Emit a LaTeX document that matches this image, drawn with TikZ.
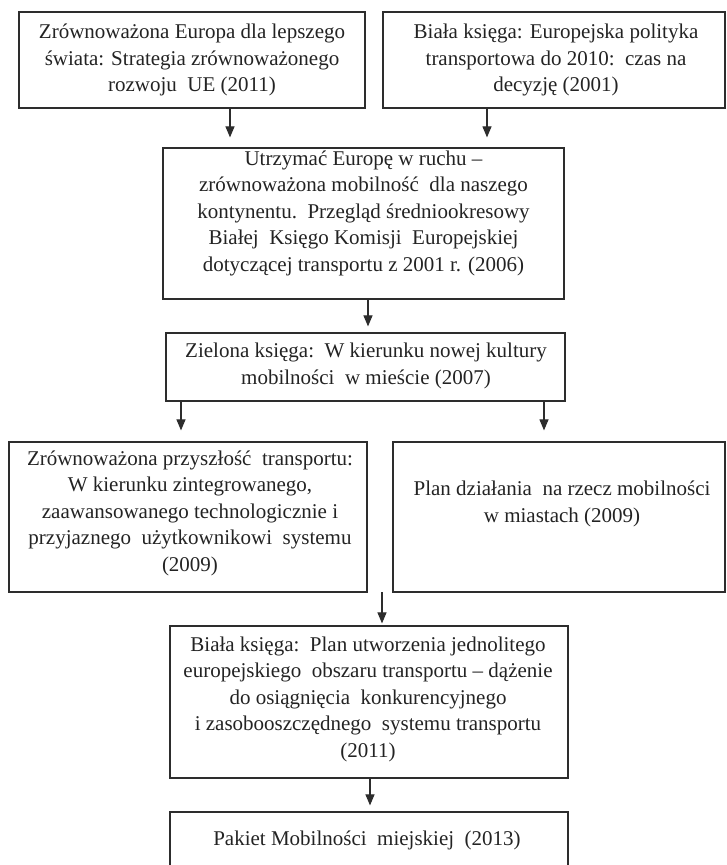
\documentclass[tikz,border=0pt]{standalone}
\usepackage{fontspec}
\setmainfont{Liberation Serif}
\usetikzlibrary{arrows.meta}
\definecolor{linec}{RGB}{45,45,45}
\definecolor{textc}{RGB}{35,35,35}
\begin{document}
\begin{tikzpicture}[x=1pt,y=-1pt,
  box/.style={draw=linec, line width=1.2pt, inner sep=0pt},
  txt/.style={align=center, inner sep=0pt, text=textc, font=\fontsize{21}{26.5}\selectfont},
  arr/.style={draw=linec, line width=1.1pt, -{Triangle[width=9pt,length=11pt]}}]
\useasboundingbox (0,0) rectangle (726,865);
\clip (0,0) rectangle (726,865);
% boxes
\node[box, minimum width=346pt, minimum height=96pt] (b1) at (192,60) {};
\node[box, minimum width=342pt, minimum height=96pt] (b2) at (554,60) {};
\node[box, minimum width=401pt, minimum height=151pt] (b3) at (363.5,223.5) {};
\node[box, minimum width=399pt, minimum height=68pt] (b4) at (365.5,367) {};
\node[box, minimum width=358pt, minimum height=150pt] (b5) at (188,517) {};
\node[box, minimum width=332pt, minimum height=150pt] (b6) at (559,517) {};
\node[box, minimum width=398pt, minimum height=152pt] (b7) at (369,702) {};
\node[box, minimum width=398pt, minimum height=60pt] (b8) at (369,842) {};
% texts
\node[txt] (t1) at (192,60) {Zrównoważona Europa dla lepszego\\ świata: Strategia zrównoważonego\\ rozwoju\ \ UE (2011)};
\node[txt] (t2) at (556,60) {Biała księga: Europejska polityka\\ transportowa do 2010:\ \ czas na\\ decyzję (2001)};
\node[txt] (t3) at (363.5,213) {Utrzymać Europę w ruchu –\\ zrównoważona mobilność\ \ dla naszego\\ kontynentu.\ \ Przegląd średniookresowy\\ Białej\ \ Księgo Komisji\ \ Europejskiej\\ dotyczącej transportu z 2001 r. (2006)};
\node[txt] (t4) at (366,366) {Zielona księga:\ \ W kierunku nowej kultury\\ mobilności\ \ w mieście (2007)};
\node[txt] (t5) at (190,513) {Zrównoważona przyszłość\ \ transportu:\\ W kierunku zintegrowanego,\\ zaawansowanego technologicznie i\\ przyjaznego\ \ użytkownikowi\ \ systemu\\ (2009)};
\node[txt] (t6) at (562,504) {Plan działania\ \ na rzecz mobilności\\ w miastach (2009)};
\node[txt] (t7) at (368,699) {Biała księga:\ \ Plan utworzenia jednolitego\\ europejskiego\ \ obszaru transportu – dążenie\\ do osiągnięcia\ \ konkurencyjnego\\ i zasobooszczędnego\ \ systemu transportu\\ (2011)};
\node[txt] (t8) at (367,840) {Pakiet Mobilności\ \ miejskiej\ \ (2013)};
% arrow columns
\coordinate (x1) at (230,0);
\coordinate (x2) at (487,0);
\coordinate (x3) at (368,0);
\coordinate (x4) at (181,0);
\coordinate (x5) at (544,0);
\coordinate (s6) at (382,592);
\coordinate (x7) at (370,0);
% connectors
\draw[arr, shorten >=10pt] (b1.south -| x1) -- (b3.north -| x1);
\draw[arr, shorten >=10pt] (b2.south -| x2) -- (b3.north -| x2);
\draw[arr, shorten >=6pt] (b3.south -| x3) -- (b4.north -| x3);
\draw[arr, shorten >=11pt] (b4.south -| x4) -- (b5.north -| x4);
\draw[arr, shorten >=11pt] (b4.south -| x5) -- (b6.north -| x5);
\draw[arr, shorten >=2pt] (s6) -- (b7.north -| s6);
\draw[arr, shorten >=6pt] (b7.south -| x7) -- (b8.north -| x7);
\end{tikzpicture}
\end{document}
